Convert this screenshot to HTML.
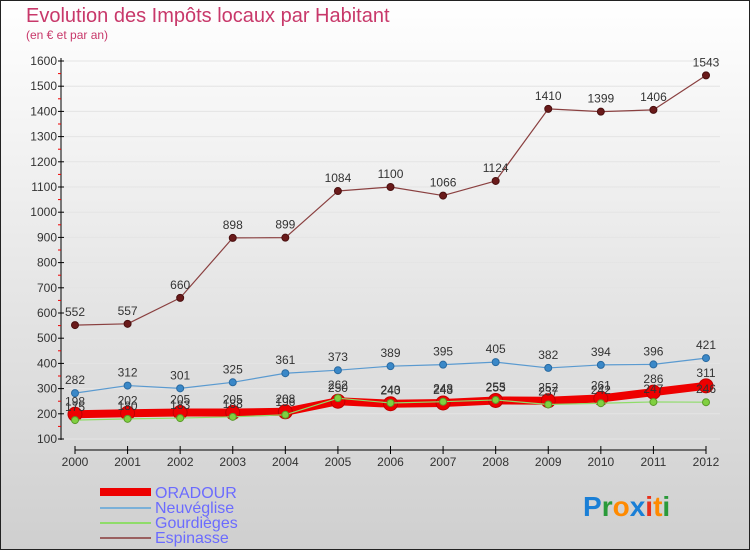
<!DOCTYPE html>
<html><head><meta charset="utf-8"><style>
body{margin:0}
svg text{font-family:"Liberation Sans",sans-serif}
</style></head><body>
<svg width="750" height="550" viewBox="0 0 750 550">
<defs><linearGradient id="bg" x1="0" y1="0" x2="0" y2="1"><stop offset="0" stop-color="#ffffff"/><stop offset="1" stop-color="#cfcfcf"/></linearGradient></defs>
<rect x="0.5" y="0.5" width="749" height="549" fill="url(#bg)" stroke="#222"/>
<text x="26" y="22" font-size="20" fill="#c8386a">Evolution des Impôts locaux par Habitant</text>
<text x="26" y="39" font-size="12" fill="#c8386a">(en € et par an)</text>
<g id="grid"></g><g id="axes"></g><g id="series"></g><g id="labels"></g>
<g>
<rect x="100" y="488" width="51" height="8" fill="#e00"/>
<text x="155" y="498" font-size="16" fill="#6b6bff">ORADOUR</text>
<rect x="100" y="507" width="51" height="2" fill="#7ab0d8"/>
<text x="155" y="513" font-size="16" fill="#6b6bff">Neuvéglise</text>
<rect x="100" y="522" width="51" height="2" fill="#8fdc6a"/>
<text x="155" y="528" font-size="16" fill="#6b6bff">Gourdièges</text>
<rect x="100" y="537" width="51" height="2" fill="#9a6060"/>
<text x="155" y="543" font-size="16" fill="#6b6bff">Espinasse</text>
</g>
<g font-size="28" font-weight="bold">
<text x="583" y="516"><tspan fill="#1a7fd6">P</tspan><tspan fill="#2a9a3a">r</tspan><tspan fill="#ff8a00">o</tspan><tspan fill="#1a7fd6">x</tspan><tspan fill="#e8301c">i</tspan><tspan fill="#ff8a00">t</tspan><tspan fill="#2a9a3a">i</tspan></text>
</g>
</svg>
<script>
const years=[2000,2001,2002,2003,2004,2005,2006,2007,2008,2009,2010,2011,2012];
const yTicks=[100,200,300,400,500,600,700,800,900,1000,1100,1200,1300,1400,1500,1600];
const espinasse=[552,557,660,898,899,1084,1100,1066,1124,1410,1399,1406,1543];
const neuveglise=[282,312,301,325,361,373,389,395,405,382,394,396,421];
const gourdieges=[175,180,183,188,196,262,243,248,255,237,242,247,246];
const oradour=[198,202,205,205,208,250,240,243,253,252,261,286,311];
const NS='http://www.w3.org/2000/svg';
const xs=i=>75+i*(706-75)/(years.length-1);
const ys=v=>439-(v-100)*(378/1500);
function el(t,a,p){const e=document.createElementNS(NS,t);for(const k in a)e.setAttribute(k,a[k]);document.getElementById(p).appendChild(e);return e;}
const ax=el('line',{x1:61,y1:58,x2:61,y2:440,stroke:'#000'},'axes');


const xax=el('line',{x1:75,y1:450,x2:706,y2:450,stroke:'#000'},'axes');


yTicks.forEach(v=>{
 const g=el('line',{x1:62,y1:ys(v),x2:720,y2:ys(v),stroke:'#e4e4e4'},'grid');
 
 
 el('line',{x1:58,y1:ys(v),x2:64,y2:ys(v),stroke:'#000'},'axes');
 if(v<1600){const m=el('line',{x1:58,y1:ys(v+50),x2:61,y2:ys(v+50),stroke:'#e00'},'axes');}
 const t=el('text',{x:57,y:ys(v)+4,'font-size':12,'text-anchor':'end',fill:'#333'},'axes');
 t.textContent=v;
 
 
});
years.forEach((y,i)=>{
 el('line',{x1:xs(i),y1:446,x2:xs(i),y2:454,stroke:'#000'},'axes');
 const t=el('text',{x:xs(i),y:466,'font-size':12,'text-anchor':'middle',fill:'#333'},'axes');
 t.textContent=y;
 
 
});
function series(data,name,color,w,r,dot,dotStroke){
 const pts=data.map((v,i)=>xs(i)+','+ys(v)).join(' ');
 const p=el('polyline',{points:pts,fill:'none',stroke:color,'stroke-width':w,'stroke-linejoin':'round'},'series');
 
 
 data.forEach((v,i)=>{
  const c=el('circle',{cx:xs(i),cy:ys(v),r:r,fill:dot,stroke:dotStroke,'stroke-width':1},'series');
  
  
  const t=el('text',{x:xs(i),y:ys(v)-9,'font-size':12,'text-anchor':'middle',fill:'#333'},'labels');
  t.textContent=v;
  
  
 });
}
series(espinasse,'espinasse','#8a4040',1.2,3.5,'#6a1a1a','#4a1010');
series(neuveglise,'neuveglise','#5a9ad0',1.2,3.5,'#3a88c8','#2a6aa0');
series(oradour,'oradour','#ee0000',8,7,'#ee0000','#c00000');
series(gourdieges,'gourdieges','#8fdc6a',1.2,3.5,'#80d040','#5a9a2a');
</script>
</body></html>
